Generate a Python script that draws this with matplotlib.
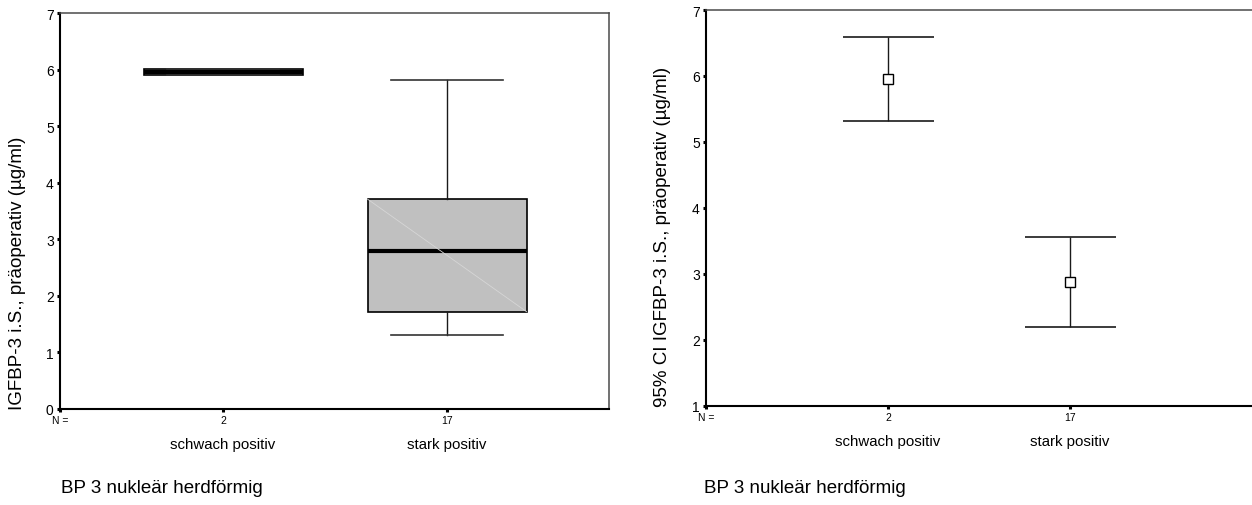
import matplotlib
matplotlib.use("Agg")
import matplotlib.pyplot as plt
from matplotlib.transforms import blended_transform_factory

plt.rcParams['font.family'] = ['Liberation Sans', 'DejaVu Sans']

# ---- data ----
groups = ["schwach positiv", "stark positiv"]
group_n = ["2", "17"]

# box plot statistics (µg/ml)
box_whislo = [5.90, 1.30]
box_q1 = [5.90, 1.72]
box_median = [5.955, 2.80]
box_q3 = [6.01, 3.71]
box_whishi = [6.01, 5.82]

# mean and 95% confidence interval (µg/ml)
ci_mean = [5.96, 2.88]
ci_low = [5.31, 2.19]
ci_high = [6.59, 3.56]

ylabel_box = "IGFBP-3 i.S., präoperativ (µg/ml)"
ylabel_ci = "95% CI IGFBP-3 i.S., präoperativ (µg/ml)"
xtitle = "BP 3 nukleär herdförmig"

W, H = 1252, 506
fig = plt.figure(figsize=(W / 100, H / 100), dpi=100)
fig.patch.set_facecolor("white")

positions = [1, 2]


def style_axes(ax, xmin, show_right=True):
    ax.spines['left'].set_linewidth(1.5)
    ax.spines['bottom'].set_linewidth(1.5)
    ax.spines['left'].set_color('black')
    ax.spines['bottom'].set_color('black')
    ax.spines['top'].set_linewidth(1.1)
    ax.spines['top'].set_color('#4a4a4a')
    ax.spines['right'].set_linewidth(1.1)
    ax.spines['right'].set_color('#4a4a4a')
    ax.spines['right'].set_visible(show_right)
    ax.tick_params(axis='y', direction='out', length=2.5, width=2.2,
                   labelsize=10, pad=2, colors='black')
    ax.tick_params(axis='x', direction='out', length=2.5, width=2.2,
                   labelsize=7.5, pad=2, colors='black')
    ax.set_xticks([xmin] + positions)
    ax.set_xticklabels(["N ="] + group_n)
    for pos, name in zip(positions, groups):
        ax.annotate(name, xy=(pos, 0), xycoords=('data', 'axes fraction'),
                    xytext=(0, -35), textcoords='offset pixels',
                    ha='center', va='center', fontsize=10.8)


# ---- left: box plot ----
axL = fig.add_axes([60 / W, 1 - 410 / H, 549 / W, 396 / H])
xminL, xmaxL = 0.272, 2.723
stats = []
for i in range(len(groups)):
    stats.append(dict(med=box_median[i], q1=box_q1[i], q3=box_q3[i],
                      whislo=box_whislo[i], whishi=box_whishi[i],
                      fliers=[], label=groups[i]))
axL.bxp(stats, positions=positions, widths=0.71, capwidths=0.5,
        patch_artist=True, showfliers=False,
        boxprops=dict(facecolor='#c0c0c0', edgecolor='black', linewidth=1.2),
        medianprops=dict(color='black', linewidth=3.0, solid_capstyle='butt'),
        whiskerprops=dict(color='#1a1a1a', linewidth=1.0),
        capprops=dict(color='#333333', linewidth=1.2))
# faint diagonal across the larger box
axL.plot([positions[1] - 0.355, positions[1] + 0.355],
         [box_q3[1], box_q1[1]], color='#d6d6d6', linewidth=0.6, zorder=2.5)
axL.set_xlim(xminL, xmaxL)
axL.set_ylim(0, 7)
axL.set_yticks(range(0, 8))
style_axes(axL, xminL)
axL.text(-0.078, 0.0, ylabel_box, transform=axL.transAxes, rotation=90,
         ha='center', va='bottom', fontsize=13.5)

# ---- right: 95% CI error bars ----
axR = fig.add_axes([706 / W, 1 - 406.7 / H, 546 / W, 395.7 / H])
xminR, xmaxR = 0.0, 3.0
axR.vlines(positions, ci_low, ci_high, color='#1a1a1a', linewidth=1.0)
axR.hlines(ci_low, [p - 0.25 for p in positions], [p + 0.25 for p in positions],
           color='#1a1a1a', linewidth=1.2)
axR.hlines(ci_high, [p - 0.25 for p in positions], [p + 0.25 for p in positions],
           color='#1a1a1a', linewidth=1.2)
axR.plot(positions, ci_mean, linestyle='none', marker='s', markersize=6.5,
         markerfacecolor='white', markeredgecolor='black', markeredgewidth=1.0,
         zorder=3)
axR.set_xlim(xminR, xmaxR)
axR.set_ylim(1, 7)
axR.set_yticks(range(1, 8))
style_axes(axR, xminR, show_right=False)
axR.text(-0.079, 0.0, ylabel_ci, transform=axR.transAxes, rotation=90,
         ha='center', va='bottom', fontsize=13.5)

# ---- titles under each chart ----
fig.text(61 / W, 1 - 489 / H, xtitle, ha='left', va='center', fontsize=13.5)
fig.text(704 / W, 1 - 489 / H, xtitle, ha='left', va='center', fontsize=13.5)

fig.savefig("out.png", dpi=100, facecolor='white')
